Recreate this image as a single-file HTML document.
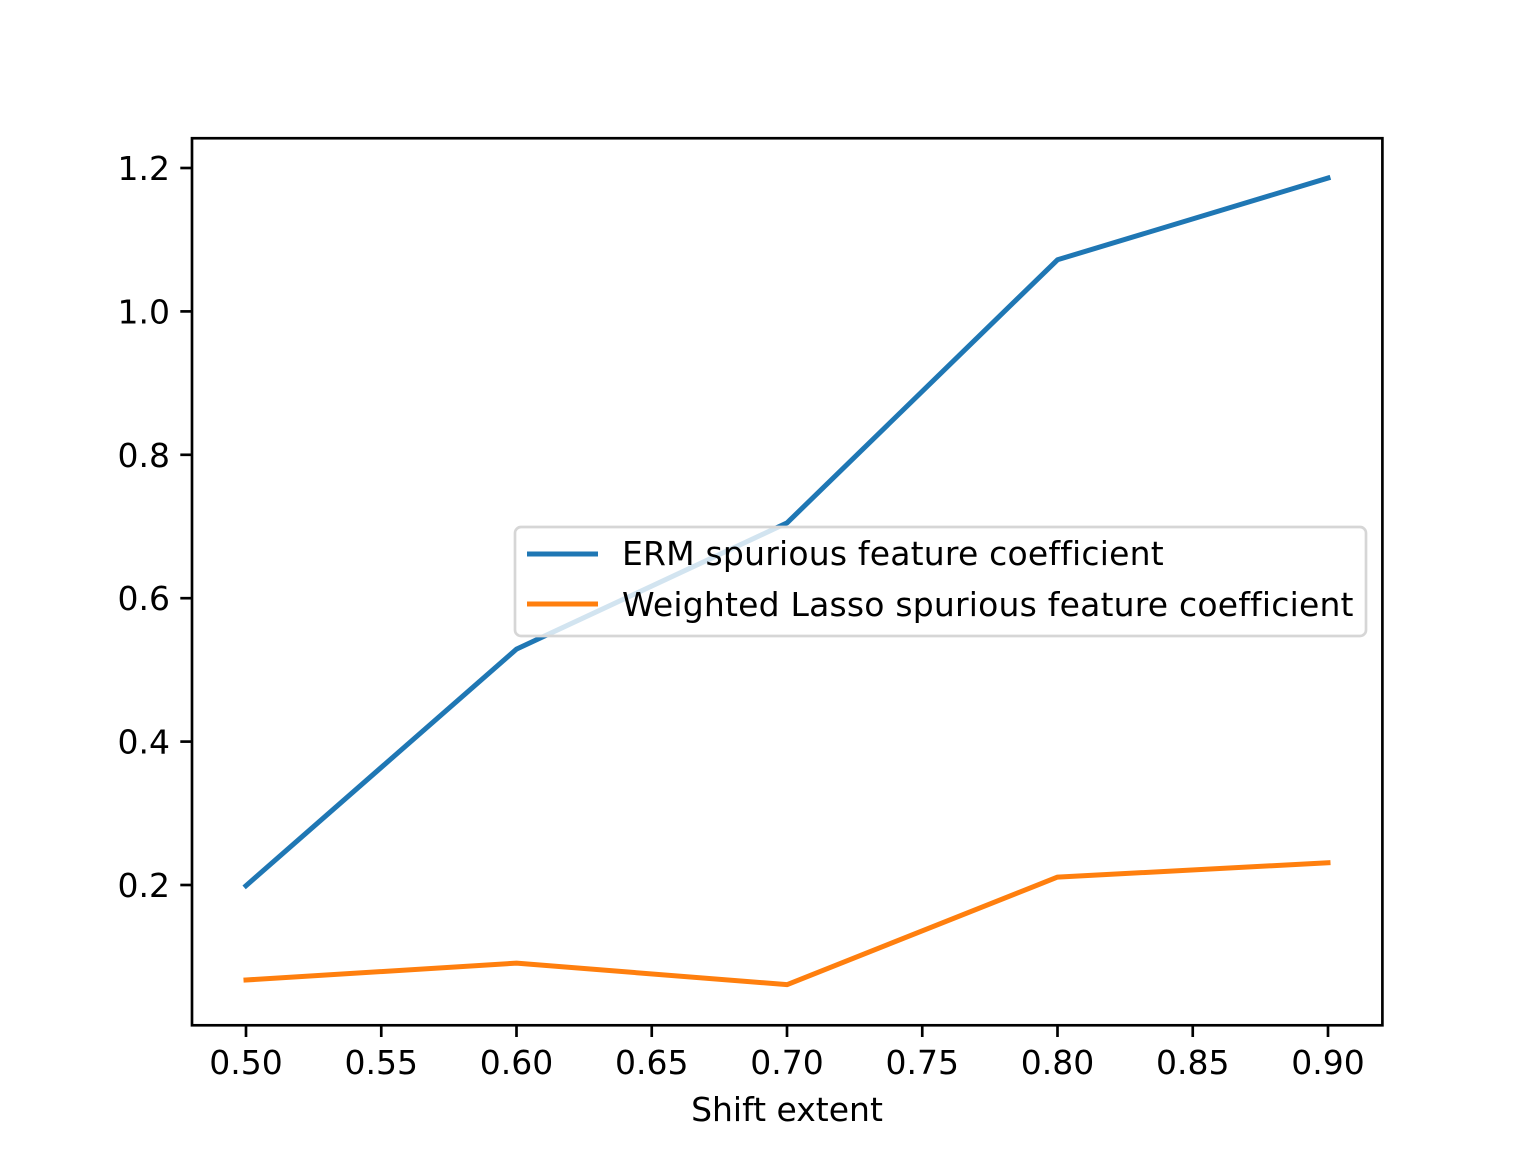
<!DOCTYPE html>
<html><head><meta charset="utf-8"><style>
html,body{margin:0;padding:0;background:#fff;}
svg{display:block;font-family:"DejaVu Sans","Liberation Sans",sans-serif;}
</style></head><body>
<svg id="chart" width="1536" height="1152" viewBox="0 0 1536 1152" xmlns="http://www.w3.org/2000/svg">
<rect width="1536" height="1152" fill="#fff"/>
<g id="plot"></g>
<rect x="192" y="138.24" width="1190.4" height="887.04" fill="none" stroke="#000" stroke-width="2.67"/>
<g id="xt"></g><g id="yt"></g>
<text x="787" y="1121" font-size="33" text-anchor="middle">Shift extent</text>
<g>
<rect x="515" y="527" width="851" height="109" rx="6" fill="#fff" fill-opacity="0.8" stroke="#d6d6d6" stroke-width="2.67"/>
<line x1="527" y1="554" x2="598" y2="554" stroke="#1f77b4" stroke-width="5"/>
<text x="622" y="565" font-size="33" letter-spacing="0.2">ERM spurious feature coefficient</text>
<line x1="527" y1="604" x2="598" y2="604" stroke="#ff7f0e" stroke-width="5"/>
<text x="622" y="616" font-size="33" letter-spacing="0.2">Weighted Lasso spurious feature coefficient</text>
</g>
</svg>
<script>
const xValues = [0.5, 0.6, 0.7, 0.8, 0.9];
const ermValues = [0.199, 0.529, 0.705, 1.072, 1.186];
const lassoValues = [0.0675, 0.091, 0.061, 0.211, 0.231];
const xTicks = [0.50, 0.55, 0.60, 0.65, 0.70, 0.75, 0.80, 0.85, 0.90];
const yTicks = [0.2, 0.4, 0.6, 0.8, 1.0, 1.2];

const NS = "http://www.w3.org/2000/svg";
function xs(v){ return 246 + (v - 0.5) * 2705; }
function ys(v){ return 885 - (v - 0.2) * 717; }
function mk(tag, attrs, parent){
  const e = document.createElementNS(NS, tag);
  for (const k in attrs) e.setAttribute(k, attrs[k]);
  parent.appendChild(e); return e;
}
const plot = document.getElementById('plot');
function series(vals, color, name){
  const p = mk('polyline', {points: xValues.map((x,i)=>xs(x)+','+ys(vals[i])).join(' '), fill:'none', stroke:color, 'stroke-width':5, 'stroke-linecap':'square', 'stroke-linejoin':'round'}, plot);
  
  
}
series(ermValues, '#1f77b4', 'erm-line');
series(lassoValues, '#ff7f0e', 'lasso-line');

const xt = document.getElementById('xt');
xTicks.forEach(t=>{
  const x = xs(t);
  const l = mk('line', {x1:x, y1:1025.28, x2:x, y2:1037, stroke:'#000', 'stroke-width':2.67}, xt);
  
  
  const tx = mk('text', {x:x, y:1074, 'font-size':33, 'text-anchor':'middle'}, xt);
  tx.textContent = t.toFixed(2);
  
  
});
const yt = document.getElementById('yt');
yTicks.forEach(t=>{
  const y = ys(t);
  const l = mk('line', {x1:180.3, y1:y, x2:192, y2:y, stroke:'#000', 'stroke-width':2.67}, yt);
  
  
  const tx = mk('text', {x:170, y:y+12, 'font-size':33, 'text-anchor':'end'}, yt);
  tx.textContent = t.toFixed(1);
  
  
});
</script>
</body></html>
